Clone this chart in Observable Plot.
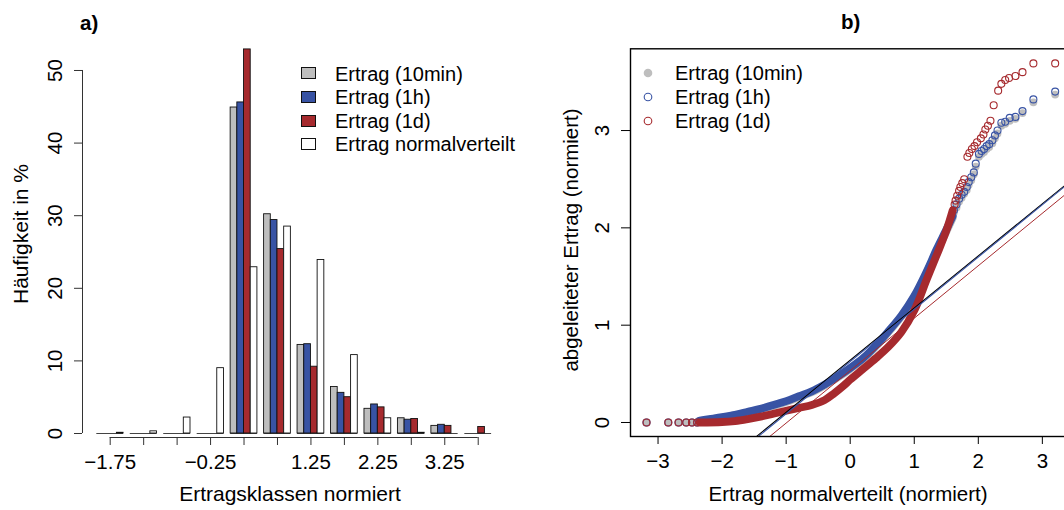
<!DOCTYPE html>
<html><head><meta charset="utf-8">
<script src="https://cdn.jsdelivr.net/npm/d3@7"></script>
<script src="https://cdn.jsdelivr.net/npm/@observablehq/plot@0.6"></script>
<style>
body{margin:0;width:1064px;height:510px;overflow:hidden;position:relative;background:#fff;font-family:"Liberation Sans",Arial,sans-serif;}
.t{position:absolute;white-space:nowrap;font-size:20.5px;line-height:1;color:#000;}
.panel{position:absolute;top:0;}
.panel svg{max-width:none !important;}
</style></head>
<body>
<div id="a" class="panel" style="left:0;width:540px"></div>
<div id="b" class="panel" style="left:540px;width:535px"></div>
<script>
// ---------- Panel a: histogram ----------
const classCenters = [-1.75,-1.25,-0.75,-0.25,0.25,0.75,1.25,1.75,2.25,2.75,3.25,3.75];
const classLabels = [-1.75,-0.25,1.25,2.25,3.25];
const yTicksA = [0,10,20,30,40,50];
const seriesA = ["Ertrag (10min)","Ertrag (1h)","Ertrag (1d)","Ertrag normalverteilt"];
const colorsA = ["#bebebe","#3853a4","#a62a2e","#ffffff"];
const h10min = [0,0,0,0,44.9,30.2,12.2,6.4,3.4,2.1,1.05,0];
const h1h    = [0,0,0,0,45.6,29.4,12.3,5.6,4.0,1.9,1.2,0];
const h1d    = [0,0,0,0,52.9,25.4,9.2,5.0,3.6,2.0,1.05,0.9];
const hNorm  = [0.1,0.3,2.2,9.0,22.9,28.5,23.9,10.8,2.1,0.1,0,0];

// ---------- Panel b: QQ plot ----------
const seriesB = ["Ertrag (10min)","Ertrag (1h)","Ertrag (1d)"];
const colorsB = ["#bebebe","#3853a4","#a62a2e"];
const xTicksB = [-3,-2,-1,0,1,2,3];
const yTicksB = [0,1,2,3];
// sparse lower tail (theoretical quantile, all at y = 0)
const lowTailX = [-3.18,-2.84,-2.68,-2.56,-2.47,-2.39];
const lowTailY = [0,0,0,0,0,0];
// dense bands
const band10minX = [-2.35,-2.2,-2.0,-1.8,-1.6,-1.4,-1.2,-1.0,-0.8,-0.6,-0.4,-0.2,0,0.2,0.4,0.6,0.8,1.0,1.2,1.35,1.5,1.6];
const band10minY = [0.015,0.03,0.05,0.075,0.10,0.135,0.17,0.21,0.26,0.31,0.38,0.46,0.55,0.65,0.78,0.93,1.09,1.29,1.55,1.76,1.96,2.10];
const band1hX = [-2.35,-2.2,-2.0,-1.8,-1.6,-1.4,-1.2,-1.0,-0.8,-0.6,-0.4,-0.2,0,0.2,0.4,0.6,0.8,1.0,1.2,1.35,1.5,1.6];
const band1hY = [0.02,0.035,0.055,0.08,0.11,0.14,0.18,0.22,0.27,0.32,0.39,0.47,0.56,0.66,0.79,0.94,1.10,1.30,1.56,1.78,1.98,2.12];
const band1dX = [-2.35,-2.0,-1.8,-1.6,-1.4,-1.2,-1.0,-0.8,-0.6,-0.4,-0.25,-0.1,0,0.2,0.4,0.6,0.8,1.0,1.2,1.35,1.5,1.6];
const band1dY = [0.0,0.005,0.015,0.035,0.06,0.09,0.12,0.15,0.18,0.23,0.30,0.38,0.44,0.55,0.66,0.78,0.93,1.15,1.48,1.72,1.97,2.18];
// sparse upper tails
const tail10minX = [1.62,1.66,1.70,1.74,1.78,1.82,1.85,1.89,1.93,1.96,2.01,2.05,2.09,2.13,2.17,2.22,2.26,2.30,2.36,2.42,2.49,2.58,2.69,2.86,3.20];
const tail10minY = [2.16,2.21,2.27,2.31,2.35,2.39,2.44,2.49,2.55,2.63,2.73,2.76,2.78,2.81,2.83,2.87,2.92,2.97,3.05,3.07,3.10,3.12,3.18,3.29,3.37];
const tail1hX = [1.62,1.66,1.70,1.74,1.78,1.82,1.85,1.89,1.93,1.96,2.01,2.05,2.09,2.13,2.17,2.22,2.26,2.30,2.36,2.42,2.49,2.58,2.69,2.86,3.20];
const tail1hY = [2.18,2.24,2.30,2.34,2.37,2.42,2.47,2.52,2.57,2.66,2.76,2.79,2.81,2.84,2.86,2.90,2.95,3.00,3.08,3.09,3.13,3.14,3.20,3.32,3.40];
const tail1dX = [1.63,1.645,1.67,1.70,1.72,1.75,1.78,1.83,1.86,1.90,1.94,1.98,2.04,2.08,2.11,2.15,2.19,2.24,2.31,2.36,2.42,2.48,2.58,2.69,2.86,3.20];
const tail1dY = [2.24,2.28,2.33,2.38,2.42,2.46,2.50,2.73,2.77,2.81,2.84,2.88,2.92,2.96,3.01,3.05,3.10,3.26,3.41,3.48,3.52,3.54,3.56,3.60,3.69,3.69];
// qqline parameters (intercept, slope) and colours
const qqIntercept = [0.640,0.626,0.533];
const qqSlope = [0.536,0.537,0.539];
const qqColors = ["#000000","#3853a4","#a62a2e"];

const FONT = "Liberation Sans, Arial, sans-serif";
const FS = 20.5;
const minus = s => s.replace("-", "\u2212");

// ===== Panel a =====
const xDomA = [-2.164, 4.083], yDomA = [-0.55, 54.13];
const valsA = [h10min, h1h, h1d, hNorm];
const barData = [];
classCenters.forEach((c, i) => valsA.forEach((v, k) => barData.push({c, k, series: seriesA[k], value: v[i]})));
const bw = 0.1;
const plotA = Plot.plot({
  width: 540, height: 510,
  marginLeft: 82, marginRight: 40, marginTop: 40, marginBottom: 73,
  x: {domain: xDomA}, y: {domain: yDomA},
  color: {domain: seriesA, range: colorsA},
  style: {fontFamily: FONT, fontSize: FS + "px", background: "transparent", overflow: "visible", maxWidth: "none"},
  marks: [
    Plot.ruleY(classCenters, {x1: d => d - 0.2, x2: d => d + 0.2, y: 0, stroke: "#444", strokeWidth: 1}),
    Plot.rectY(barData.filter(d => d.value > 0), {
      x1: d => d.c - 0.2 + d.k * bw, x2: d => d.c - 0.2 + (d.k + 1) * bw,
      y1: 0, y2: "value", fill: "series", stroke: "#111", strokeWidth: 0.9
    }),
    Plot.ruleX([xDomA[0]], {y1: yTicksA[0], y2: yTicksA[yTicksA.length - 1], stroke: "#333"}),
    Plot.axisY({ticks: yTicksA, tickSize: 8, tickFormat: () => "", label: null, stroke: "#333"}),
    Plot.text(yTicksA, {x: xDomA[0], y: d => d, text: d => String(d), rotate: -90, dx: -27, fontSize: FS}),
    Plot.ruleY([yDomA[0]], {x1: classCenters[0], x2: classCenters[classCenters.length - 1], stroke: "#333"}),
    Plot.axisX({ticks: classCenters, tickSize: 8, tickPadding: 9, fontSize: FS, label: null, stroke: "#333",
      tickFormat: d => classLabels.includes(d) ? minus(d.toFixed(2)) : ""})
  ]
});
document.getElementById("a").appendChild(plotA);

// ===== Panel b =====
const xDomB = [-3.43, 3.43], yDomB = [-0.144, 3.84];
const toPts = (xs, ys, s) => xs.map((x, i) => ({x, y: ys[i], s}));
const bands = [toPts(band10minX, band10minY, 0), toPts(band1hX, band1hY, 1), toPts(band1dX, band1dY, 2)];
const tails = [toPts(tail10minX, tail10minY, 0), toPts(tail1hX, tail1hY, 1), toPts(tail1dX, tail1dY, 2)];
const low = [0, 1, 2].map(s => toPts(lowTailX, lowTailY, s));
const qqLines = [0, 1, 2].flatMap(s => xDomB.map(x => ({s, x, y: qqIntercept[s] + qqSlope[s] * x})));
const R = 3.5;
const seriesMarks = [];
[0, 1, 2].forEach(s => {
  seriesMarks.push(Plot.line(bands[s], {x: "x", y: "y", stroke: colorsB[s], strokeWidth: 7.8, strokeLinecap: "round", curve: "catmull-rom"}));
  const pts = low[s].concat(tails[s]);
  if (s === 0) seriesMarks.push(Plot.dot(pts, {x: "x", y: "y", r: R + 0.4, fill: colorsB[0], stroke: "none"}));
  else seriesMarks.push(Plot.dot(pts, {x: "x", y: "y", r: R, fill: "none", stroke: colorsB[s], strokeWidth: 1.1}));
});
const plotB = Plot.plot({
  width: 535, height: 510,
  marginLeft: 90, marginRight: 5.6, marginTop: 48.3, marginBottom: 74,
  x: {domain: xDomB}, y: {domain: yDomB},
  style: {fontFamily: FONT, fontSize: FS + "px", background: "transparent", overflow: "visible", maxWidth: "none"},
  marks: [
    ...seriesMarks,
    [0, 1, 2].map(s => Plot.line(qqLines.filter(d => d.s === s), {x: "x", y: "y", stroke: qqColors[s], strokeWidth: s === 2 ? 1 : 1.1, clip: true})),
    Plot.frame({stroke: "#000", strokeWidth: 1.4}),
    Plot.axisY({ticks: yTicksB, tickSize: 9, tickFormat: () => "", label: null}),
    Plot.text(yTicksB, {x: xDomB[0], y: d => d, text: d => String(d), rotate: -90, dx: -28, fontSize: FS}),
    Plot.axisX({ticks: xTicksB, tickSize: 8, tickPadding: 9, fontSize: FS, label: null,
      tickFormat: d => minus(String(d))})
  ]
});
document.getElementById("b").appendChild(plotB);

// ===== Text overlays =====
function addText(txt, left, top, extra) {
  const d = document.createElement("div");
  d.className = "t"; d.textContent = txt;
  d.style.left = left + "px"; d.style.top = top + "px";
  if (extra) Object.assign(d.style, extra);
  document.body.appendChild(d);
  return d;
}
addText("a)", 80, 13, {fontWeight: "bold"});
addText("b)", 841, 11.5, {fontWeight: "bold"});
addText("Ertragsklassen normiert", 290, 493, {transform: "translate(-50%,-50%)", fontSize: "21px"});
addText("H\u00e4ufigkeit in %", 20, 234, {transform: "translate(-50%,-50%) rotate(-90deg)", fontSize: "21px"});
addText("Ertrag normalverteilt (normiert)", 848, 494, {transform: "translate(-50%,-50%)"});
addText("abgeleiteter Ertrag (normiert)", 571, 240, {transform: "translate(-50%,-50%) rotate(-90deg)"});

// legend a
const legAY = [73.3, 96.9, 120.5, 144.1];
seriesA.forEach((s, i) => {
  const sq = document.createElement("div");
  Object.assign(sq.style, {position: "absolute", left: "301px", top: (legAY[i] - 6) + "px", width: "13px", height: "10px",
    background: colorsA[i], border: "1px solid #111"});
  document.body.appendChild(sq);
  addText(s, 335, legAY[i] - 9.8, {fontSize: "20px"});
});
// legend b
const legBY = [72.7, 96.7, 120.7];
seriesB.forEach((s, i) => {
  const ns = "http://www.w3.org/2000/svg";
  const svg = document.createElementNS(ns, "svg");
  svg.setAttribute("width", 14); svg.setAttribute("height", 14);
  svg.style.position = "absolute"; svg.style.left = (647.7 - 7) + "px"; svg.style.top = (legBY[i] - 7) + "px";
  const c = document.createElementNS(ns, "circle");
  c.setAttribute("cx", 7); c.setAttribute("cy", 7);
  if (i === 0) { c.setAttribute("r", R + 0.8); c.setAttribute("fill", colorsB[0]); }
  else { c.setAttribute("r", R + 0.3); c.setAttribute("fill", "none"); c.setAttribute("stroke", colorsB[i]); c.setAttribute("stroke-width", 1.1); }
  svg.appendChild(c);
  document.body.appendChild(svg);
  addText(s, 675, legBY[i] - 9.8, {fontSize: "20px"});
});
</script>
</body></html>
